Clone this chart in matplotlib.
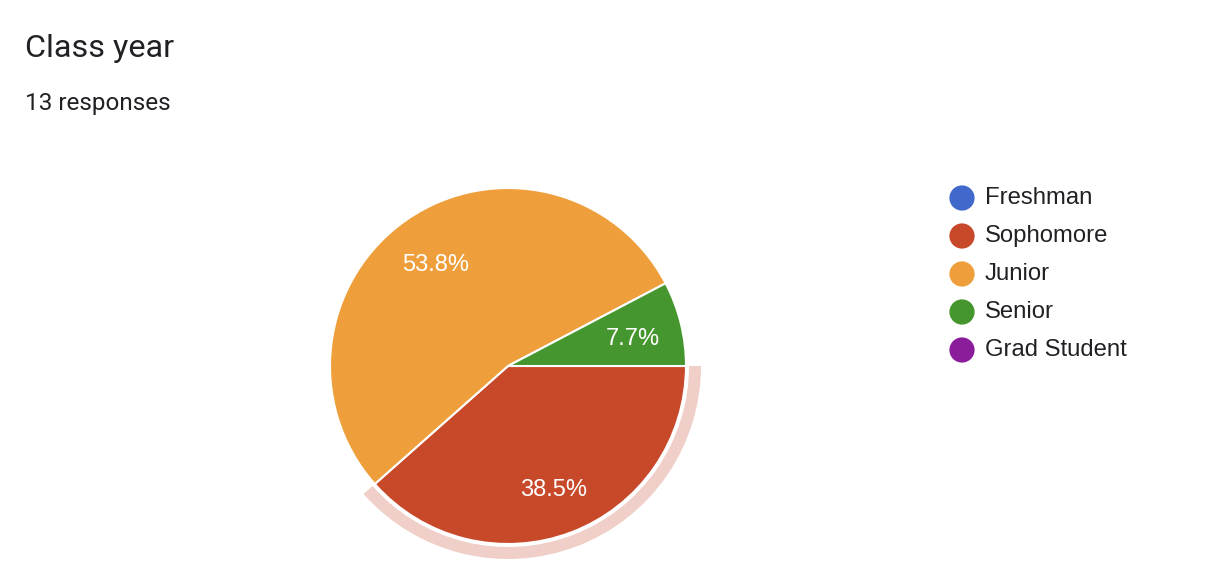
import matplotlib.pyplot as plt
from matplotlib.patches import Wedge

# survey data
categories = ['Freshman', 'Sophomore', 'Junior', 'Senior', 'Grad Student']
counts = [0, 5, 7, 1, 0]
colors = ['#4169cc', '#c8482a', '#ee9f3b', '#46962f', '#8b1c9a']
title = 'Class year'
subtitle = '13 responses'

W, H = 1210, 580

fig = plt.figure(figsize=(W / 100, H / 100), dpi=100)
ax = fig.add_axes([0, 0, 1, 1])
ax.set_xlim(0, W)
ax.set_ylim(0, H)
ax.set_aspect('equal')
ax.axis('off')

# only slices with responses get drawn
vals = [c for c in counts if c > 0]
cols = [colors[i] for i, c in enumerate(counts) if c > 0]

cx, cy, r = 508, H - 366, 178
wedges, texts, autotexts = ax.pie(
    vals, colors=cols, startangle=0, counterclock=False,
    center=(cx, cy), radius=r, autopct='%1.1f%%', pctdistance=0.72,
    wedgeprops=dict(edgecolor='white', linewidth=1.5),
    textprops=dict(color='white', fontsize=17, family='Liberation Sans'),
)
# labels sit a little lower in the original
for t in autotexts:
    x, y = t.get_position()
    t.set_position((x, y - 4))
ax.set_xlim(0, W)
ax.set_ylim(0, H)

# hover highlight ring around the Sophomore slice
soph = wedges[0]
ax.add_patch(Wedge((cx, cy), r + 15, soph.theta1, soph.theta2, width=12,
                   facecolor='#efcfc8', edgecolor='none'))

# title
ax.text(25, H - 57, title, fontsize=23.3, family='Roboto', color='#202124', va='baseline')
ax.text(25, H - 110, subtitle, fontsize=17.5, family='Roboto', color='#202124', va='baseline')

# legend
for i, (name, col) in enumerate(zip(categories, colors)):
    y = H - (198 + 38 * i)
    ax.scatter([962], [y], s=330, color=col, edgecolor='none')
    ax.text(985, y, name, fontsize=17.2, family='Liberation Sans', color='#202124', va='center')

fig.savefig('out.png', dpi=100)
